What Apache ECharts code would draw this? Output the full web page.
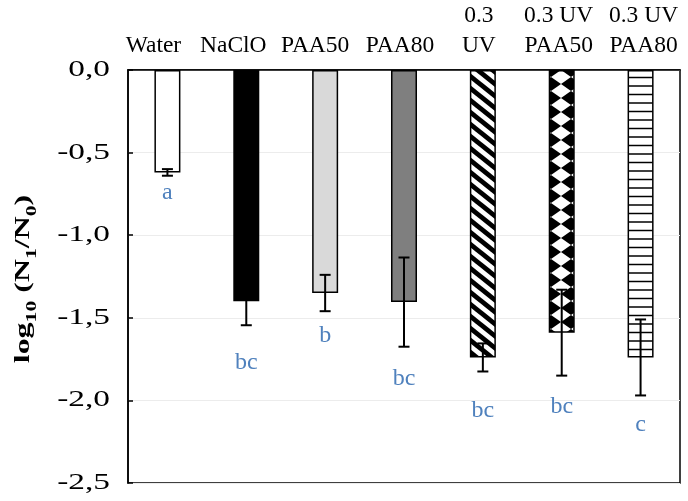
<!DOCTYPE html>
<html>
<head>
<meta charset="utf-8">
<script src="https://cdn.jsdelivr.net/npm/echarts@6/dist/echarts.min.js"></script>
<style>
html,body{margin:0;padding:0;background:#fff;}
#chart{width:688px;height:501px;}
</style>
</head>
<body>
<div id="chart"></div>
<script>
var categories = ['Water', 'NaClO', 'PAA50', 'PAA80', '0.3\nUV', '0.3 UV\nPAA50', '0.3 UV\nPAA80'];
var means = [-0.62, -1.40, -1.35, -1.405, -1.74, -1.59, -1.74];
var errors = [0.02, 0.145, 0.11, 0.27, 0.085, 0.26, 0.23];
var letters = ['a', 'bc', 'b', 'bc', 'bc', 'bc', 'c'];
var letterPos = [-0.74, -1.77, -1.61, -1.87, -2.06, -2.04, -2.15];
var yTicks = [0, -0.5, -1.0, -1.5, -2.0, -2.5];

// horizontal nudges of the category text boxes (px, negative = left)
var labelShift = [-14, -13, -10, -4, -4, -3, 3];

function makeCanvas(w, h, draw) {
  var c = document.createElement('canvas');
  c.width = w; c.height = h;
  var ctx = c.getContext('2d');
  ctx.fillStyle = '#fff';
  ctx.fillRect(0, 0, w, h);
  draw(ctx, w, h);
  return c;
}
var stripe = makeCanvas(15, 12, function (ctx, w, h) {
  ctx.strokeStyle = '#000';
  ctx.lineWidth = 4.8;
  [-2 * w, -w, 0, w, 2 * w].forEach(function (o) {
    ctx.beginPath();
    ctx.moveTo(o - w, -h);
    ctx.lineTo(o + 2 * w, 2 * h);
    ctx.stroke();
  });
});
var diamond = makeCanvas(20, 14, function (ctx, w, h) {
  var dx = w / 2, dy = h / 2;
  ctx.fillStyle = '#000';
  [[11, 0], [11, h], [11 - w, 0], [11 - w, h], [11 + w, 0], [11 + w, h]].forEach(function (p) {
    ctx.beginPath();
    ctx.moveTo(p[0], p[1] - dy);
    ctx.lineTo(p[0] + dx, p[1]);
    ctx.lineTo(p[0], p[1] + dy);
    ctx.lineTo(p[0] - dx, p[1]);
    ctx.closePath();
    ctx.fill();
  });
});
var hline = makeCanvas(10, 17, function (ctx, w, h) {
  ctx.strokeStyle = '#000';
  ctx.lineWidth = 1.5;
  [1, 9.5].forEach(function (y) {
    ctx.beginPath();
    ctx.moveTo(0, y);
    ctx.lineTo(w, y);
    ctx.stroke();
  });
});

var fills = ['#ffffff', '#000000', '#d9d9d9', '#7f7f7f',
  { image: stripe, repeat: 'repeat' },
  { image: diamond, repeat: 'repeat' },
  { image: hline, repeat: 'repeat' }];

var FONT = '"Liberation Serif", "Times New Roman", serif';

var barData = means.map(function (v, i) {
  return {
    value: v,
    itemStyle: { color: fills[i], borderColor: '#000', borderWidth: 1.5 }
  };
});

var labelRich = {};
labelShift.forEach(function (s, i) {
  labelRich['c' + i] = {
    color: '#000', fontFamily: FONT, fontSize: 23.5, lineHeight: 30,
    padding: s < 0 ? [0, -2 * s, 0, 0] : [0, 0, 0, 2 * s]
  };
});

var chart = echarts.init(document.getElementById('chart'));
chart.setOption({
  animation: false,
  backgroundColor: '#fff',
  grid: { left: 128, right: 8, top: 70, bottom: 18, show: true, borderColor: '#000', borderWidth: 1.5, backgroundColor: 'transparent' },
  graphic: [{
    type: 'text',
    x: 26, y: 279,
    rotation: Math.PI / 2,
    scaleX: 1.45,
    style: {
      text: '{m|log}{s|10}{m| (N}{s|1}{m|/N}{s|0}{m|)}',
      align: 'center', verticalAlign: 'middle',
      rich: {
        m: { fontFamily: FONT, fontSize: 22, fontWeight: 'bold', fill: '#000', verticalAlign: 'bottom', padding: [0, 0, 5, 0] },
        s: { fontFamily: FONT, fontSize: 15, fontWeight: 'bold', fill: '#000', verticalAlign: 'bottom' }
      }
    }
  }],
  xAxis: {
    type: 'category',
    position: 'top',
    data: categories,
    axisLine: { show: true, lineStyle: { color: '#000', width: 1.5 } },
    axisTick: { show: false },
    axisLabel: {
      color: '#000', fontFamily: FONT, fontSize: 23.5, lineHeight: 30, margin: 9, interval: 0,
      formatter: function (v, i) {
        return v.split('\n').map(function (line) { return '{c' + i + '|' + line + '}'; }).join('\n');
      },
      rich: labelRich
    },
    splitLine: { show: false }
  },
  yAxis: {
    type: 'value',
    min: -2.5, max: 0, interval: 0.5,
    axisLine: { show: true, lineStyle: { color: '#000', width: 1.5 } },
    axisTick: { show: true, inside: true, length: 5, lineStyle: { color: '#000', width: 1.5 } },
    axisLabel: { show: false },
    splitLine: { show: true, lineStyle: { color: '#ececec', width: 1 } }
  },
  series: [
    {
      type: 'bar',
      data: barData,
      barWidth: 26,
      z: 2
    },
    {
      type: 'custom',
      z: 5,
      data: means.map(function (v, i) { return [i, v, errors[i]]; }),
      renderItem: function (params, api) {
        var i = api.value(0), m = api.value(1), e = api.value(2);
        var top = api.coord([i, m + e]);
        var bot = api.coord([i, m - e]);
        var cap = 5.5;
        var st = { stroke: '#000', lineWidth: 2 };
        return {
          type: 'group',
          children: [
            { type: 'line', shape: { x1: top[0], y1: top[1], x2: bot[0], y2: bot[1] }, style: st },
            { type: 'line', shape: { x1: top[0] - cap, y1: top[1], x2: top[0] + cap, y2: top[1] }, style: st },
            { type: 'line', shape: { x1: bot[0] - cap, y1: bot[1], x2: bot[0] + cap, y2: bot[1] }, style: st }
          ]
        };
      }
    },
    {
      type: 'custom',
      z: 6,
      data: letterPos.map(function (v, i) { return [i, v]; }),
      renderItem: function (params, api) {
        var i = api.value(0);
        var p = api.coord([i, api.value(1)]);
        return {
          type: 'text',
          style: {
            text: letters[params.dataIndex],
            x: p[0], y: p[1],
            textAlign: 'center', textVerticalAlign: 'middle',
            font: '24px ' + FONT,
            fill: '#4f81bd'
          }
        };
      }
    },
    {
      type: 'custom',
      z: 6,
      clip: false,
      data: yTicks.map(function (v) { return [0, v]; }),
      renderItem: function (params, api) {
        var p = api.coord([0, api.value(1)]);
        var x = params.coordSys.x - 18;
        return {
          type: 'text',
          x: x, y: p[1],
          scaleX: 1.45,
          style: {
            text: api.value(1).toFixed(1).replace('.', ','),
            x: 0, y: 0,
            textAlign: 'right', textVerticalAlign: 'middle',
            font: '23px ' + FONT,
            fill: '#000'
          }
        };
      }
    }
  ]
});
</script>
</body>
</html>
